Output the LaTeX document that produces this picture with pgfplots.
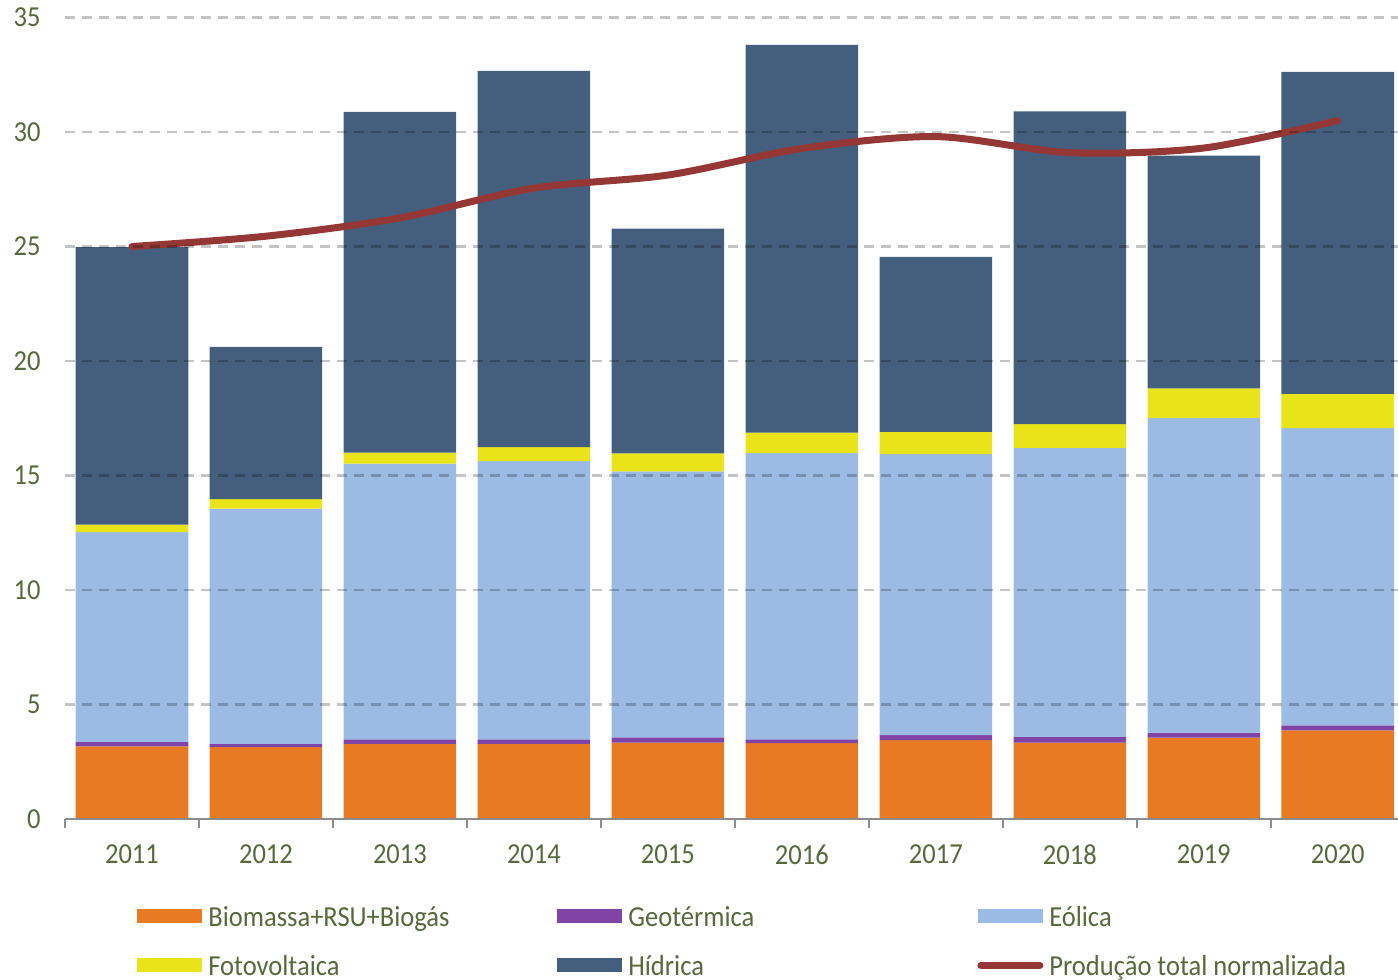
\documentclass[border=0pt]{standalone}
\usepackage{fontspec}
\setmainfont{Carlito}[FakeStretch=0.915]
\usepackage{pgfplots}
\pgfplotsset{compat=1.18}
\definecolor{cBio}{HTML}{E87A24}
\definecolor{cGeo}{HTML}{7F44A6}
\definecolor{cEol}{HTML}{9BBBE5}
\definecolor{cFot}{HTML}{E9E41A}
\definecolor{cHid}{HTML}{445F7E}
\definecolor{cTot}{HTML}{953735}
\definecolor{cTxt}{HTML}{56693A}
\definecolor{cAx}{HTML}{8C8C8C}
\begin{document}
\fontsize{14.5pt}{17pt}\selectfont
\begin{tikzpicture}
\begin{axis}[
  at={(32.5pt,80.5pt)}, anchor=south west,
  scale only axis, width=666.5pt, height=400.75pt,
  ybar stacked, bar width=0.84, reverse stacked plots=false,
  xmin=-0.5, xmax=9.45, ymin=0, ymax=35,
  ytick={0,5,...,35},
  xtick={0,...,9},
  xticklabels={2011,2012,2013,2014,2015,2016,2017,2018,2019,2020},
  minor xtick={-0.5,0.5,...,8.5},
  major x tick style={draw=none},
  minor x tick style={draw=cAx, line width=1.2pt},
  xtick align=outside, minor tick length=4.5pt,
  axis x line*=bottom, axis y line*=left,
  x axis line style={draw=cAx, line width=1.1pt, -},
  y axis line style={draw=none},
  major y tick style={draw=none},
  ymajorgrids,
  grid style={draw=black, draw opacity=0.23, line width=1.4pt, dash pattern=on 5pt off 3.5pt},
  axis on top,
  /pgf/number format/assume math mode=true,
  tick label style={text=cTxt, font=\fontsize{14.5pt}{17pt}\selectfont},
  yticklabel style={inner sep=0pt, xshift=-12pt},
  xticklabel style={inner sep=0pt, yshift=-8.5pt},
  legend columns=3,
  legend style={at={(axis description cs:0.054,-0.1085)}, anchor=north west,
    draw=none, fill=none, inner sep=0pt, row sep=11.5pt,
    font=\fontsize{14.5pt}{17pt}\selectfont, text=cTxt,
    nodes={inner sep=0pt, text height=10pt, text depth=3pt, anchor=base west}},
  /tikz/every odd column/.append style={column sep=3pt},
  legend image code/.code={\fill[#1] (0pt,1.5pt) rectangle (32.5pt,8.5pt);},
]
\addplot[fill=cBio, draw=none] coordinates {(0,3.17) (1,3.14) (2,3.28) (3,3.28) (4,3.34) (5,3.31) (6,3.44) (7,3.34) (8,3.55) (9,3.87)};
\addlegendentry{\makebox[174.5pt][l]{Biomassa+RSU+Biogás}}
\addplot[fill=cGeo, draw=none] coordinates {(0,0.20) (1,0.14) (2,0.20) (3,0.20) (4,0.22) (5,0.17) (6,0.22) (7,0.25) (8,0.22) (9,0.22)};
\addlegendentry{\makebox[174.5pt][l]{Geotérmica}}
\addplot[fill=cEol, draw=none] coordinates {(0,9.16) (1,10.27) (2,12.04) (3,12.15) (4,11.62) (5,12.50) (6,12.27) (7,12.62) (8,13.75) (9,12.98)};
\addlegendentry{Eólica}
\addplot[fill=cFot, draw=none] coordinates {(0,0.33) (1,0.42) (2,0.48) (3,0.61) (4,0.79) (5,0.89) (6,0.98) (7,1.03) (8,1.29) (9,1.49)};
\addlegendentry{\makebox[174.5pt][l]{Fotovoltaica}}
\addplot[fill=cHid, draw=none] coordinates {(0,12.11) (1,6.65) (2,14.88) (3,16.43) (4,9.81) (5,16.93) (6,7.64) (7,13.66) (8,10.16) (9,14.07)};
\addlegendentry{\makebox[174.5pt][l]{Hídrica}}
\addplot[stack plots=false, smooth, draw=cTot, line width=3.5pt, line cap=round, mark=none,
  legend image code/.code={\draw[draw=cTot, line width=3.5pt, line cap=round] (1.5pt,5pt) -- (31pt,5pt);}]
  coordinates {(0,25.0) (1,25.45) (2,26.25) (3,27.55) (4,28.12) (5,29.28) (6,29.8) (7,29.1) (8,29.3) (9,30.5)};
\addlegendentry{Produção total normalizada}
\end{axis}
\pgfresetboundingbox
\useasboundingbox (0,0) rectangle (699pt,490pt);
\end{tikzpicture}
\end{document}
